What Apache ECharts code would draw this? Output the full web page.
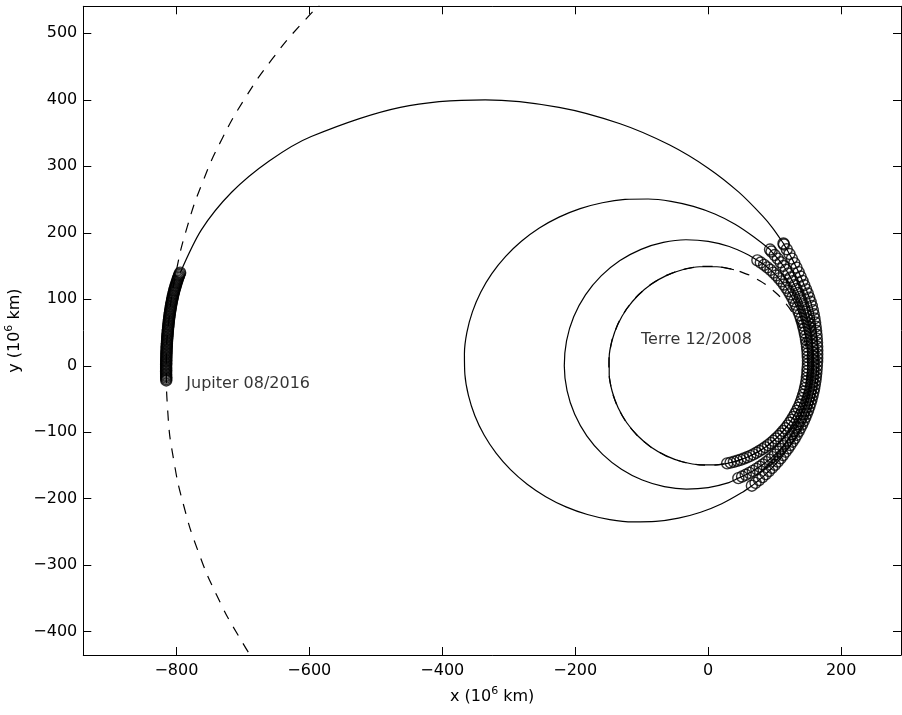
<!DOCTYPE html>
<html><head><meta charset="utf-8">
<script src="https://cdn.jsdelivr.net/npm/echarts@6/dist/echarts.min.js"></script>
<style>html,body{margin:0;padding:0;background:#fff}#c{width:902px;height:715px}</style>
</head><body><div id="c"></div>
<script>
// Tick labels
const xTicks = [-800, -600, -400, -200, 0, 200];
const yTicks = [-400, -300, -200, -100, 0, 100, 200, 300, 400, 500];

// Orbits, heliocentric polar readings [angle deg, radius 10^6 km]
const earthOrbit = [[0,149.5],[10,149.5],[20,149.5],[30,149.5],[40,149.5],[50,149.5],[60,149.5],[70,149.5],[80,149.5],[90,149.5],[100,149.5],[110,149.5],[120,149.5],[130,149.5],[140,149.5],[150,149.5],[160,149.5],[170,149.5],[180,149.5],[190,149.5],[200,149.5],[210,149.5],[220,149.5],[230,149.5],[240,149.5],[250,149.5],[260,149.5],[270,149.5],[280,149.5],[290,149.5],[300,149.5],[310,149.5],[320,149.5],[330,149.5],[340,149.5],[350,149.5],[360,149.5]];
const jupiterOrbit = [[130,793.1],[135,796.2],[140,799.2],[145,801.9],[150,804.5],[155,807.0],[160,809.1],[165,811.0],[170,812.7],[175,814.1],[180,815.1],[185,815.9],[190,816.4],[195,816.5],[200,816.4],[205,815.9],[210,815.0],[215,814.0],[220,812.5]];

// Spacecraft path pieces (polar [deg, r])
const loop1 = [[75,149.5],[85,149.5],[95,149.5],[105,149.5],[115,149.5],[125,149.5],[135,149.5],[145,149.5],[155,149.5],[165,149.5],[175,149.5],[185,149.5],[195,149.5],[205,149.5],[215,149.5],[225,149.5],[235,149.5],[245,149.5],[255,149.5],[265,149.5],[275,149.5]];
const thrust1 = [[-79,149.5],[-77,149.5],[-75,149.5],[-73,149.5],[-71,149.5],[-69,149.5],[-67,149.5],[-65,149.5],[-63,149.5],[-61,149.5],[-59,149.5],[-57,149.5],[-55,149.5],[-53,149.5],[-51,149.5],[-49,149.5],[-47,149.5],[-45,149.5],[-43,149.5],[-41,149.5],[-39,149.5],[-37,149.5],[-35,149.5],[-33,149.5],[-31,149.5],[-29,149.5],[-27,149.5],[-25,149.5],[-23,149.5],[-21,149.5],[-19,149.5],[-17,149.5],[-15,149.5],[-13,149.5],[-11,149.5],[-9,149.5],[-7,149.5],[-5,149.5],[-3,149.5],[-1,149.6],[1,150.0],[3,150.1],[5,150.3],[7,150.6],[9,150.9],[11,151.3],[13,151.7],[15,152.2],[17,152.8],[19,153.4],[21,154.1],[23,154.8],[25,155.6],[27,156.5],[29,157.4],[31,158.4],[33,159.4],[35,160.4],[37,161.5],[39,162.6],[41,163.7],[43,164.8],[45,165.9],[47,167.0],[49,168.1],[51,169.1],[53,170.1],[55,171.0],[57,171.9],[59,172.7],[61,173.5],[63,174.2],[65,174.9]];
const loop2 = [[70,177.4],[80,182.2],[90,187.2],[100,192.4],[110,197.4],[120,202.2],[130,206.5],[140,210.2],[150,213.2],[160,215.3],[170,216.4],[180,216.5],[190,215.6],[200,213.7],[210,210.9],[220,207.3],[230,203.1],[240,198.4],[250,193.4],[260,188.3],[270,183.2],[280,178.4]];
const thrust2 = [[-75,175.0],[-73,174.2],[-71,173.4],[-69,172.6],[-67,171.8],[-65,171.1],[-63,170.4],[-61,169.7],[-59,169.1],[-57,168.4],[-55,167.8],[-53,167.1],[-51,166.5],[-49,165.8],[-47,165.2],[-45,164.6],[-43,164.1],[-41,163.6],[-39,163.1],[-37,162.6],[-35,162.1],[-33,161.7],[-31,161.2],[-29,160.8],[-27,160.4],[-25,160.1],[-23,159.8],[-21,159.5],[-19,159.3],[-17,159.1],[-15,158.9],[-13,158.8],[-11,158.7],[-9,158.6],[-7,158.6],[-5,158.5],[-3,158.5],[-1,158.5],[1,158.6],[3,158.8],[5,159.0],[7,159.3],[9,159.7],[11,160.1],[13,160.6],[15,161.2],[17,161.8],[19,162.5],[21,163.3],[23,164.2],[25,165.1],[27,166.1],[29,167.2],[31,168.4],[33,169.7],[35,171.1],[37,172.6],[39,174.2],[41,175.9],[43,177.7],[45,179.6],[47,181.6],[49,183.7],[51,185.8],[53,187.9],[55,190.0],[57,192.1],[59,194.2],[61,196.4],[62,198.0]];
// cartesian [x, y]
const loop3 = [[68.3,194.1],[40.4,212.9],[10.0,228.2],[-22.3,239.7],[-56.0,247.3],[-90.4,250.8],[-125.1,250.1],[-159.3,245.2],[-192.6,236.3],[-224.4,223.5],[-254.0,207.1],[-281.0,187.2],[-305.0,164.2],[-325.5,138.6],[-342.2,110.7],[-354.7,81.1],[-363.0,50.2],[-366.7,18.6],[-366.0,-13.2],[-360.7,-44.6],[-351.0,-75.1],[-337.1,-104.2],[-319.1,-131.4],[-297.4,-156.2],[-272.3,-178.1],[-244.4,-196.9],[-214.0,-212.2],[-181.7,-223.7],[-148.0,-231.3],[-113.6,-234.8],[-78.9,-234.1],[-44.7,-229.2],[-11.4,-220.3],[20.4,-207.5],[50.0,-191.1]];
const thrust3 = [[-70,192.0],[-68,190.0],[-66,188.1],[-64,186.3],[-62,184.5],[-60,182.8],[-58,181.2],[-56,179.6],[-54,178.1],[-52,176.7],[-50,175.3],[-48,174.0],[-46,172.8],[-44,171.7],[-42,170.7],[-40,169.8],[-38,168.9],[-36,168.1],[-34,167.3],[-32,166.6],[-30,166.0],[-28,165.4],[-26,164.9],[-24,164.5],[-22,164.1],[-20,163.8],[-18,163.5],[-16,163.3],[-14,163.1],[-12,163.0],[-10,162.9],[-8,162.9],[-6,162.9],[-4,163.0],[-2,163.2],[0,163.5],[2,163.9],[4,164.4],[6,165.0],[8,165.7],[10,166.5],[12,167.4],[14,168.4],[16,169.5],[18,170.7],[20,172.0],[22,173.5],[24,175.0],[26,176.6],[28,178.2],[30,179.9],[32,181.6],[34,183.3],[36,185.0],[38,186.7],[40,188.5],[42,190.8],[44,193.2],[46,195.8],[48,198.5],[50,201.4],[52,204.5],[54,207.8],[56,211.3],[58,215.0],[58.4,216.0]];
const transfer = [[96.7,207.5],[82.0,225.1],[46.0,261.1],[0.0,297.2],[-58.6,332.3],[-132.5,364.0],[-224.4,388.7],[-335.5,399.9],[-463.2,388.7],[-597.1,344.8],[-660.4,308.0],[-716.9,260.9],[-762.4,204.3],[-794.1,140.0]];
const jupiterArrival = [[170.00,806.5],[170.15,806.9],[170.30,807.4],[170.45,807.8],[170.60,808.2],[170.75,808.5],[170.90,808.9],[171.05,809.2],[171.20,809.5],[171.35,809.8],[171.50,810.1],[171.65,810.4],[171.80,810.7],[171.95,811.0],[172.10,811.2],[172.25,811.4],[172.40,811.7],[172.55,811.9],[172.70,812.1],[172.85,812.3],[173.00,812.4],[173.15,812.6],[173.30,812.8],[173.45,812.9],[173.60,813.0],[173.75,813.1],[173.90,813.3],[174.05,813.4],[174.20,813.5],[174.35,813.6],[174.50,813.7],[174.65,813.8],[174.80,813.9],[174.95,814.0],[175.10,814.0],[175.25,814.1],[175.40,814.2],[175.55,814.2],[175.70,814.3],[175.85,814.4],[176.00,814.4],[176.15,814.5],[176.30,814.5],[176.45,814.6],[176.60,814.6],[176.75,814.7],[176.90,814.7],[177.05,814.8],[177.20,814.8],[177.35,814.9],[177.50,814.9],[177.65,814.9],[177.80,815.0],[177.95,815.0],[178.10,815.0],[178.25,815.1],[178.40,815.1],[178.55,815.1],[178.70,815.2],[178.85,815.2],[179.00,815.2],[179.15,815.2],[179.30,815.3],[179.45,815.3],[179.60,815.3],[179.75,815.3],[179.90,815.4],[180.05,815.4],[180.20,815.4],[180.35,815.4],[180.50,815.4],[180.65,815.5],[180.80,815.5],[180.95,815.5],[181.10,815.5],[181.25,815.5],[181.40,815.5],[181.55,815.5]];

const annotations = [
  {text: 'Terre 12/2008', x: -101, y: 39},
  {text: 'Jupiter 08/2016', x: -785, y: -27}
];

function xy(p) { const a = p[0] * Math.PI / 180; return [p[1] * Math.cos(a), p[1] * Math.sin(a)]; }

const FONT = 'DejaVu Sans';
const FS = 16;
const path = [].concat(loop1.map(xy), thrust1.map(xy), loop2.map(xy), thrust2.map(xy), loop3, thrust3.map(xy), transfer);
const marks = [].concat(thrust1.map(xy), thrust2.map(xy), thrust3.map(xy), jupiterArrival.map(xy));
const minus = v => String(v).replace('-', '\u2212');

const rich = {
  n: {fontSize: FS, fontFamily: FONT, color: '#000', lineHeight: 22},
  s: {fontSize: 11, fontFamily: FONT, color: '#000', lineHeight: 11, verticalAlign: 'top'}
};
function xAx(pos, main) {
  return {
    type: 'value', min: -940, max: 290, position: pos,
    axisLine: {show: true, onZero: false, lineStyle: {color: '#000', width: 1}},
    axisTick: {show: true, inside: true, length: 8, customValues: xTicks, lineStyle: {color: '#000', width: 1}},
    axisLabel: {show: main, customValues: xTicks, margin: 8, color: '#000', fontSize: FS, fontFamily: FONT, formatter: minus},
    splitLine: {show: false},
    name: main ? '{n|x (10}{s|6}{n| km)}' : '', nameLocation: 'middle', nameGap: 31,
    nameTextStyle: {rich: rich}
  };
}
function yAx(pos, main) {
  return {
    type: 'value', min: -435, max: 540.6, position: pos,
    axisLine: {show: true, onZero: false, lineStyle: {color: '#000', width: 1}},
    axisTick: {show: true, inside: true, length: 8, customValues: yTicks, lineStyle: {color: '#000', width: 1}},
    axisLabel: {show: main, customValues: yTicks, margin: 6, color: '#000', fontSize: FS, fontFamily: FONT, formatter: minus},
    splitLine: {show: false},
    name: main ? '{n|y (10}{s|6}{n| km)}' : '', nameLocation: 'middle', nameGap: 52,
    nameTextStyle: {rich: rich}
  };
}

const chart = echarts.init(document.getElementById('c'), null, {renderer: 'canvas'});
chart.setOption({
  animation: false,
  backgroundColor: '#fff',
  textStyle: {fontFamily: FONT},
  grid: {left: 83.3, top: 6.3, width: 817.7, height: 648.7, containLabel: false, outerBoundsMode: 'none'},
  xAxis: [xAx('bottom', true), xAx('top', false)],
  yAxis: [yAx('left', true), yAx('right', false)],
  series: [
    {type: 'line', name: 'Jupiter', data: jupiterOrbit.map(xy), showSymbol: false, smooth: true, silent: true,
     lineStyle: {color: '#000', width: 1.2, type: [10, 9]}, clip: true, z: 1},
    {type: 'line', name: 'Terre', data: earthOrbit.map(xy), showSymbol: false, smooth: true, silent: true,
     lineStyle: {color: '#000', width: 1.2, type: [10, 9]}, clip: true, z: 1},
    {type: 'line', name: 'trajectoire', data: path, showSymbol: false, smooth: 0.3, silent: true,
     lineStyle: {color: '#000', width: 1.2}, clip: true, z: 2},
    {type: 'scatter', name: 'poussée', data: marks, symbol: 'circle', symbolSize: 11, silent: true,
     itemStyle: {color: 'rgba(0,0,0,0)', borderColor: '#000', borderWidth: 1.4}, z: 3},
    {type: 'scatter', name: 'labels', data: annotations.map(a => ({value: [a.x, a.y], name: a.text})),
     symbolSize: 0, silent: true, z: 4,
     label: {show: true, position: 'right', distance: 0, formatter: p => p.name, color: '#000', fontSize: FS, fontFamily: FONT}}
  ]
});
</script></body></html>
